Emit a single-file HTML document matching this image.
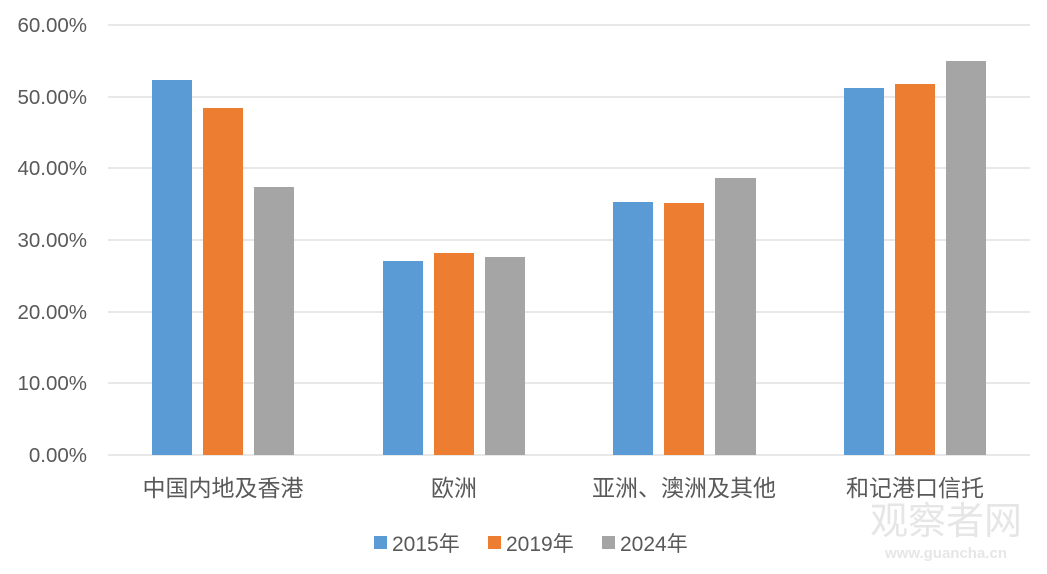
<!DOCTYPE html>
<html><head><meta charset="utf-8"><style>
body{margin:0;background:#fff;}
svg text{font-family:"Liberation Sans","Noto Sans CJK SC",sans-serif;fill:#595959;}
</style></head><body>
<svg width="1047" height="569" viewBox="0 0 1047 569" xmlns="http://www.w3.org/2000/svg">
<g stroke="#d9d9d9" stroke-width="1.3">
<line x1="108" y1="25" x2="1030" y2="25"/>
<line x1="108" y1="97" x2="1030" y2="97"/>
<line x1="108" y1="168" x2="1030" y2="168"/>
<line x1="108" y1="240" x2="1030" y2="240"/>
<line x1="108" y1="312" x2="1030" y2="312"/>
<line x1="108" y1="383" x2="1030" y2="383"/>
<line x1="108" y1="455" x2="1030" y2="455"/>
</g>
<g font-size="20.5" text-anchor="end">
<text x="87" y="32">60.00%</text>
<text x="87" y="104">50.00%</text>
<text x="87" y="175">40.00%</text>
<text x="87" y="247">30.00%</text>
<text x="87" y="319">20.00%</text>
<text x="87" y="390">10.00%</text>
<text x="87" y="462">0.00%</text>
</g>
<g fill="#5B9BD5">
<rect x="152" y="80" width="40" height="375"/>
<rect x="383" y="261" width="40" height="194"/>
<rect x="613" y="202" width="40" height="253"/>
<rect x="844" y="88" width="40" height="367"/>
</g>
<g fill="#ED7D31">
<rect x="203" y="108" width="40" height="347"/>
<rect x="434" y="253" width="40" height="202"/>
<rect x="664" y="203" width="40" height="252"/>
<rect x="895" y="84" width="40" height="371"/>
</g>
<g fill="#A5A5A5">
<rect x="254" y="187" width="40" height="268"/>
<rect x="485" y="257" width="40" height="198"/>
<rect x="715" y="178" width="41" height="277"/>
<rect x="946" y="61" width="40" height="394"/>
</g>
<g font-size="23" text-anchor="middle">
<text x="223" y="496">中国内地及香港</text>
<text x="454" y="496">欧洲</text>
<text x="684" y="496">亚洲、澳洲及其他</text>
<text x="915" y="496">和记港口信托</text>
</g>
<rect x="374" y="536" width="13" height="13" fill="#5B9BD5"/>
<text x="392" y="551" font-size="21">2015年</text>
<rect x="488" y="536" width="13" height="13" fill="#ED7D31"/>
<text x="506" y="551" font-size="21">2019年</text>
<rect x="602" y="536" width="13" height="13" fill="#A5A5A5"/>
<text x="620" y="551" font-size="21">2024年</text>
<text x="946" y="534" font-size="38" text-anchor="middle" style="fill:#e6e6e6">观察者网</text>
<text x="946" y="558" font-size="15" font-weight="bold" text-anchor="middle" style="fill:#e6e6e6">www.guancha.cn</text>
</svg>
</body></html>
